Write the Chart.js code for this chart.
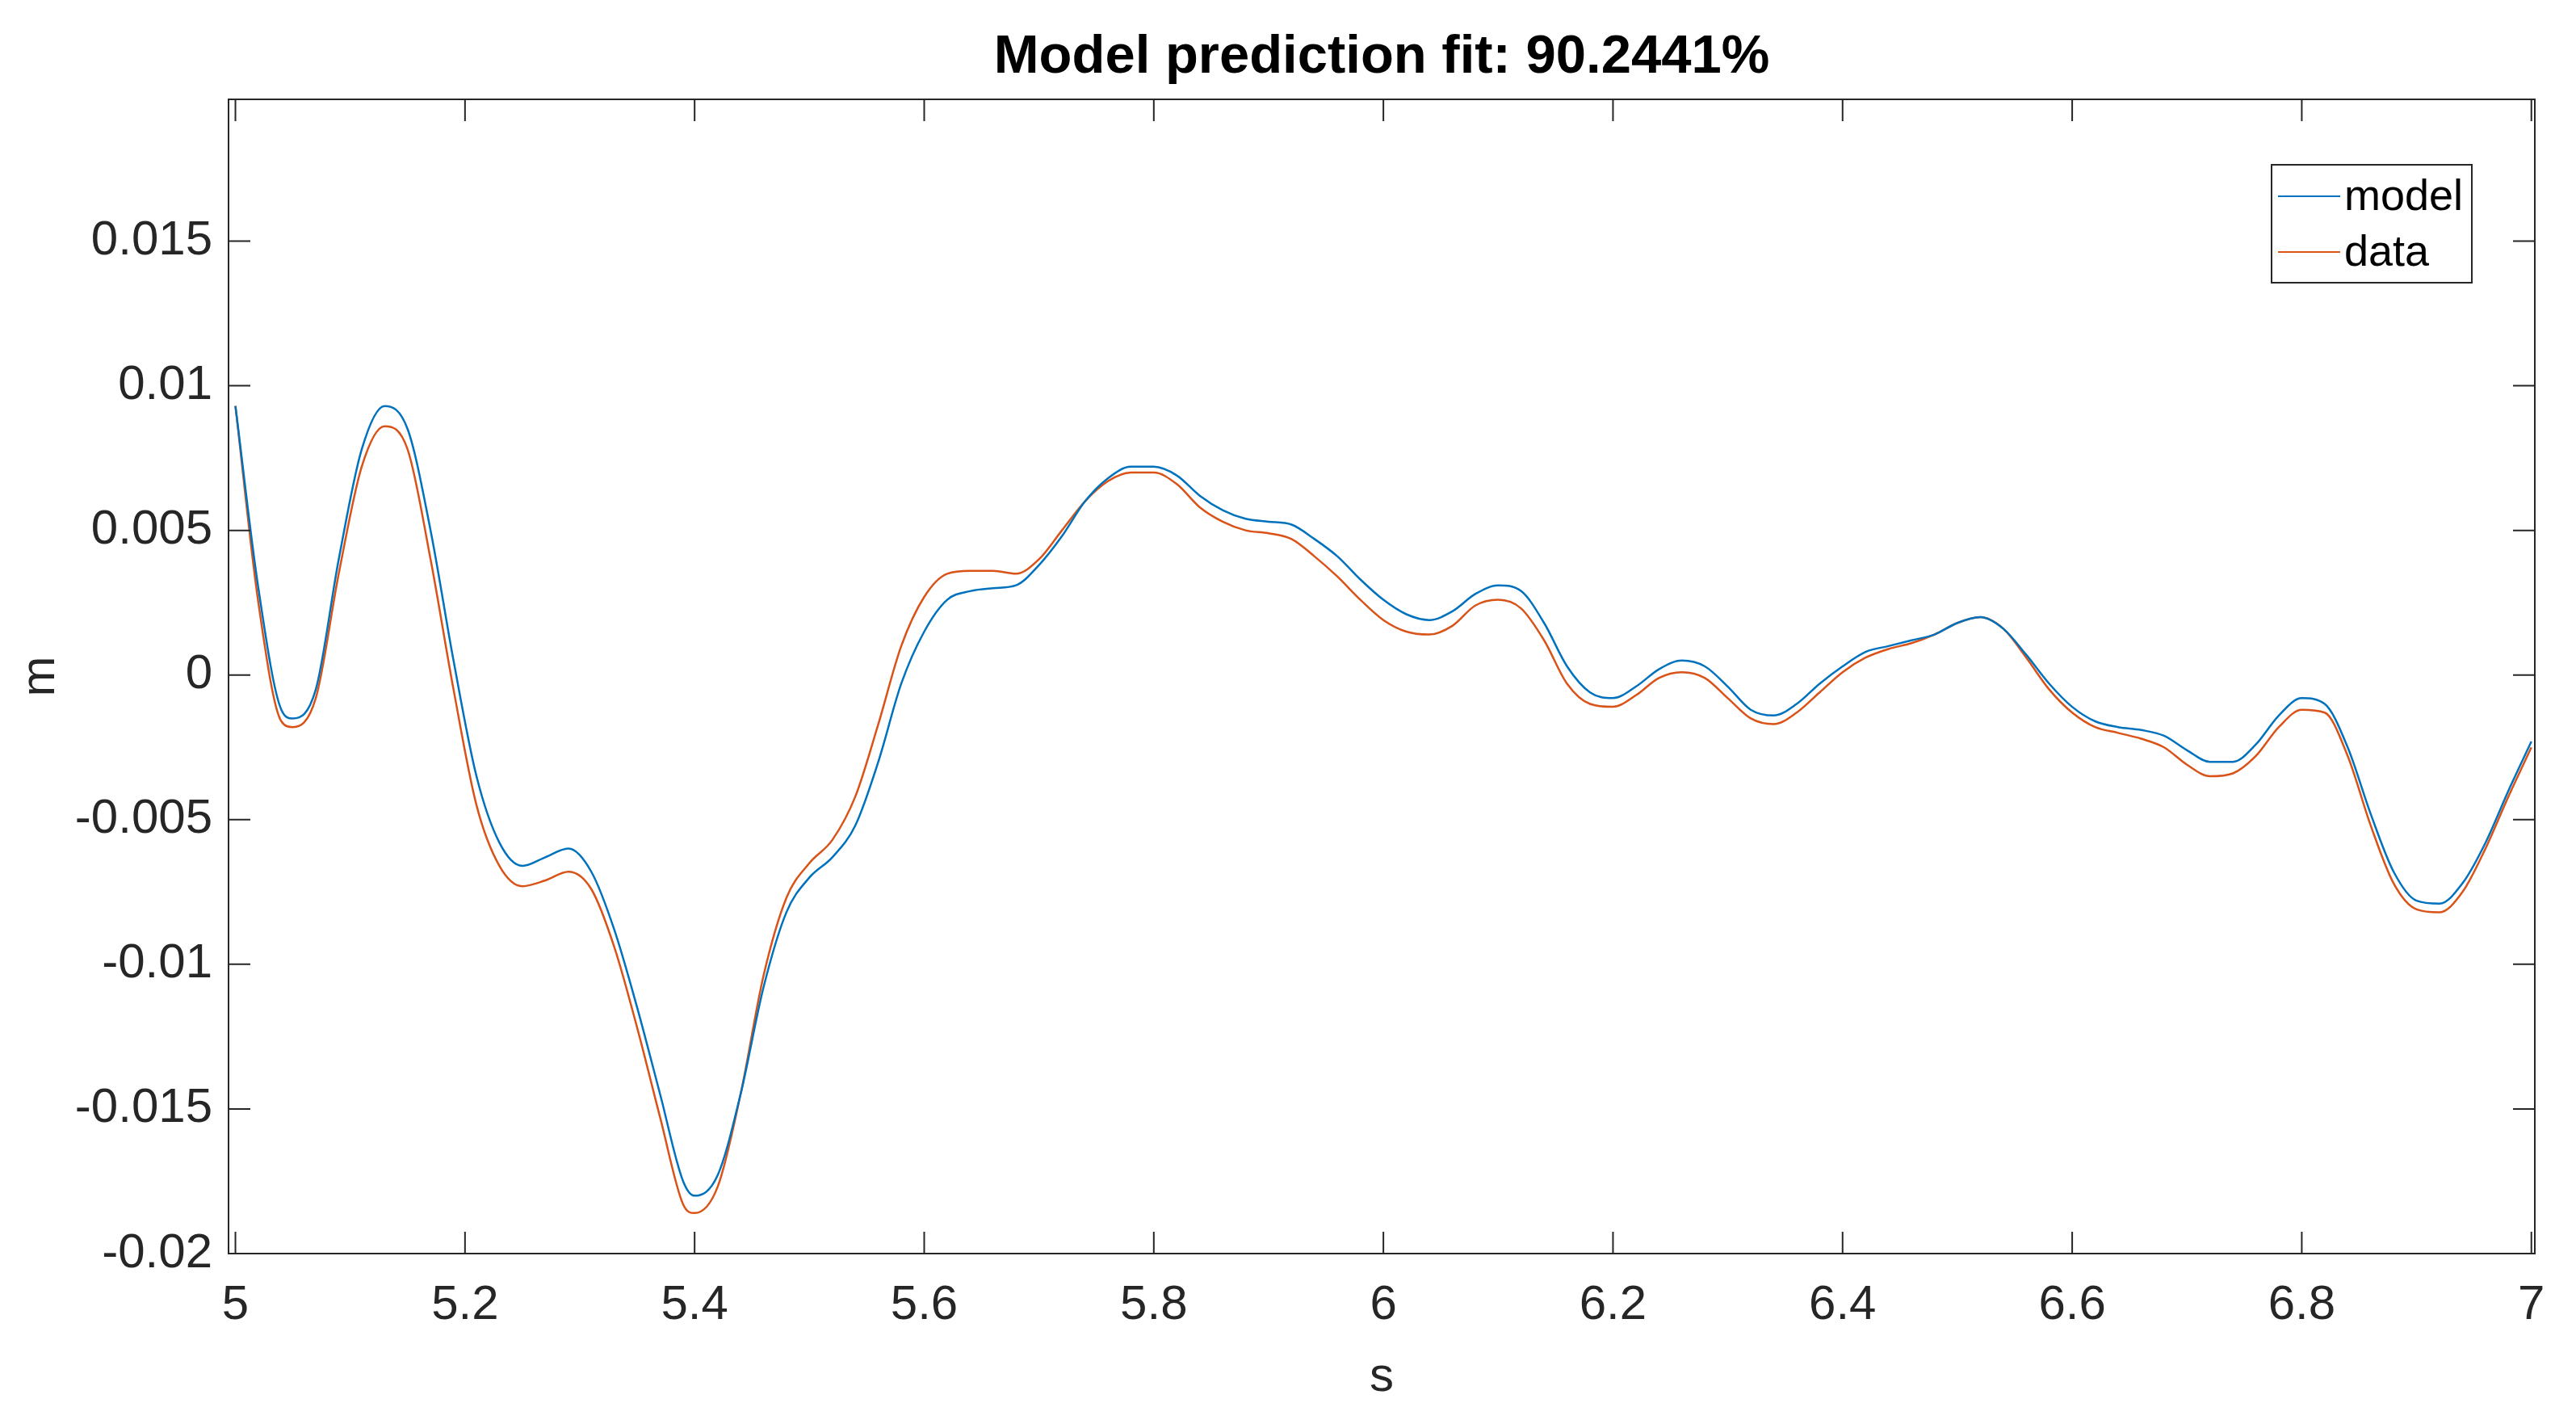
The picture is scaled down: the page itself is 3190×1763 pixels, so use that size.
<!DOCTYPE html>
<html>
<head>
<meta charset="utf-8">
<script src="https://cdn.jsdelivr.net/npm/chart.js@4"></script>
<style>
  html, body { margin: 0; padding: 0; background: #fff; }
  #wrap { width: 3190px; height: 1763px; }
</style>
</head>
<body>
<div id="wrap"><canvas id="fitChart" width="3190" height="1763"></canvas></div>
<script>
const titleText = 'Model prediction fit: 90.2441%';
const seriesNames = ['model', 'data'];
const xTicks = [5, 5.2, 5.4, 5.6, 5.8, 6, 6.2, 6.4, 6.6, 6.8, 7];
const yTicks = [-0.02, -0.015, -0.01, -0.005, 0, 0.005, 0.01, 0.015];

const times = [5.00, 5.02, 5.04, 5.05, 5.07, 5.09, 5.11, 5.13, 5.15, 5.17, 5.19, 5.21, 5.23, 5.25, 5.27, 5.29,
  5.31, 5.33, 5.35, 5.37, 5.39, 5.40, 5.42, 5.44, 5.46, 5.48, 5.50, 5.52, 5.54, 5.56, 5.58, 5.60,
  5.62, 5.64, 5.66, 5.68, 5.70, 5.72, 5.74, 5.76, 5.78, 5.80, 5.82, 5.84, 5.86, 5.88, 5.90, 5.92,
  5.94, 5.96, 5.98, 6.00, 6.02, 6.04, 6.06, 6.08, 6.10, 6.12, 6.14, 6.16, 6.18, 6.20, 6.22, 6.24,
  6.26, 6.28, 6.30, 6.32, 6.34, 6.36, 6.38, 6.40, 6.42, 6.44, 6.46, 6.48, 6.50, 6.52, 6.54, 6.56,
  6.58, 6.60, 6.62, 6.64, 6.66, 6.68, 6.70, 6.72, 6.74, 6.76, 6.78, 6.80, 6.82, 6.84, 6.86, 6.88,
  6.90, 6.92, 6.94, 6.96, 6.98, 7.00];

const modelValues = [0.0093, 0.0030, -0.0012, -0.0015, -0.0005, 0.0040, 0.0078, 0.0093, 0.0085, 0.0050, 0.0005, -0.0035, -0.0058, -0.0066, -0.0063, -0.0060,
  -0.0068, -0.0088, -0.0115, -0.0145, -0.0175, -0.0180, -0.0173, -0.0145, -0.0108, -0.0082, -0.0070, -0.0063, -0.0052, -0.0030, -0.0003, 0.0015,
  0.0026, 0.0029, 0.0030, 0.0031, 0.0038, 0.0048, 0.0060, 0.0068, 0.0072, 0.0072, 0.0069, 0.0062, 0.0057, 0.0054, 0.0053, 0.0052,
  0.0047, 0.0041, 0.0033, 0.0026, 0.0021, 0.0019, 0.0022, 0.0028, 0.0031, 0.0029, 0.0018, 0.0003, -0.0006, -0.0008, -0.0004, 0.0002,
  0.0005, 0.0003, -0.0004, -0.0012, -0.0014, -0.0010, -0.0003, 0.0003, 0.0008, 0.0010, 0.0012, 0.0014, 0.0018, 0.0020, 0.0016, 0.0007,
  -0.0003, -0.0011, -0.0016, -0.0018, -0.0019, -0.0021, -0.0026, -0.0030, -0.0030, -0.0024, -0.0014, -0.0008, -0.0010, -0.0025, -0.0048, -0.0068,
  -0.0078, -0.0079, -0.0072, -0.0058, -0.0040, -0.0023];

const dataValues = [0.0093, 0.0025, -0.0016, -0.0018, -0.0008, 0.0035, 0.0072, 0.0086, 0.0078, 0.0040, -0.0005, -0.0045, -0.0066, -0.0073, -0.0071, -0.0068,
  -0.0074, -0.0094, -0.0122, -0.0153, -0.0183, -0.0186, -0.0177, -0.0145, -0.0104, -0.0077, -0.0065, -0.0057, -0.0042, -0.0017, 0.0010, 0.0027,
  0.0035, 0.0036, 0.0036, 0.0035, 0.0040, 0.0050, 0.0060, 0.0067, 0.0070, 0.0070, 0.0066, 0.0058, 0.0053, 0.0050, 0.0049, 0.0047,
  0.0041, 0.0034, 0.0026, 0.0019, 0.0015, 0.0014, 0.0017, 0.0024, 0.0026, 0.0023, 0.0012, -0.0003, -0.0010, -0.0011, -0.0007, -0.0001,
  0.0001, -0.0001, -0.0008, -0.0015, -0.0017, -0.0013, -0.0006, 0.0001, 0.0006, 0.0009, 0.0011, 0.0014, 0.0018, 0.0020, 0.0016, 0.0006,
  -0.0005, -0.0013, -0.0018, -0.0020, -0.0022, -0.0025, -0.0031, -0.0035, -0.0034, -0.0028, -0.0018, -0.0012, -0.0013, -0.0028, -0.0052, -0.0072,
  -0.0081, -0.0082, -0.0075, -0.0060, -0.0042, -0.0025];

const blue = '#0072BD';
const orange = '#D95319';
const fontFam = '"Liberation Sans", Arial, sans-serif';

// box, inward ticks, title, axis labels and legend, drawn like MATLAB does
const matlabFrame = {
  id: 'matlabFrame',
  afterDraw(chart) {
    const ctx = chart.ctx;
    const a = chart.chartArea;
    const xs = chart.scales.x, ys = chart.scales.y;
    const tl = 27;
    ctx.save();
    ctx.strokeStyle = '#262626';
    ctx.lineWidth = 2;
    ctx.strokeRect(a.left, a.top, a.right - a.left, a.bottom - a.top);
    ctx.beginPath();
    xTicks.forEach(v => {
      const p = xs.getPixelForValue(v);
      ctx.moveTo(p, a.bottom); ctx.lineTo(p, a.bottom - tl);
      ctx.moveTo(p, a.top); ctx.lineTo(p, a.top + tl);
    });
    yTicks.forEach(v => {
      const p = ys.getPixelForValue(v);
      ctx.moveTo(a.left, p); ctx.lineTo(a.left + tl, p);
      ctx.moveTo(a.right, p); ctx.lineTo(a.right - tl, p);
    });
    ctx.stroke();

    ctx.fillStyle = '#000';
    ctx.font = 'bold 67px ' + fontFam;
    ctx.textAlign = 'center';
    ctx.textBaseline = 'middle';
    ctx.fillText(titleText, (a.left + a.right) / 2, 72);

    ctx.fillStyle = '#262626';
    ctx.font = '60px ' + fontFam;
    ctx.fillText('s', (a.left + a.right) / 2, 1705);
    ctx.save();
    ctx.translate(50, (a.top + a.bottom) / 2);
    ctx.rotate(-Math.PI / 2);
    ctx.fillText('m', 0, 0);
    ctx.restore();

    // legend
    const lx = 2813, ly = 204, lw = 248, lh = 146;
    ctx.fillStyle = '#fff';
    ctx.fillRect(lx, ly, lw, lh);
    ctx.strokeStyle = '#262626';
    ctx.lineWidth = 2;
    ctx.strokeRect(lx, ly, lw, lh);
    const rows = [[blue, 243], [orange, 312]];
    ctx.font = '54px ' + fontFam;
    ctx.textAlign = 'left';
    rows.forEach((r, i) => {
      ctx.strokeStyle = r[0];
      ctx.beginPath();
      ctx.moveTo(lx + 8, r[1]); ctx.lineTo(lx + 85, r[1]);
      ctx.stroke();
      ctx.fillStyle = '#000';
      ctx.fillText(seriesNames[i], lx + 90, r[1] + 2);
    });
    ctx.restore();
  }
};

const toPoints = vals => vals.map((v, i) => ({ x: times[i], y: v }));

new Chart(document.getElementById('fitChart'), {
  type: 'line',
  data: {
    datasets: [
      { label: seriesNames[0], data: toPoints(modelValues), borderColor: blue, borderWidth: 2.5, pointRadius: 0, tension: 0.4, cubicInterpolationMode: 'monotone' },
      { label: seriesNames[1], data: toPoints(dataValues), borderColor: orange, borderWidth: 2.5, pointRadius: 0, tension: 0.4, cubicInterpolationMode: 'monotone' }
    ]
  },
  options: {
    responsive: false,
    animation: false,
    devicePixelRatio: 1,
    layout: { padding: { top: 123, right: 51, left: 0, bottom: 0 } },
    plugins: { legend: { display: false }, title: { display: false }, tooltip: { enabled: false } },
    scales: {
      x: {
        type: 'linear', min: 4.994, max: 7.003,
        afterBuildTicks: s => { s.ticks = xTicks.map(v => ({ value: v })); },
        afterFit: s => { s.height = 211; },
        grid: { display: false, drawTicks: false },
        border: { display: false },
        ticks: { color: '#262626', font: { size: 60, family: fontFam }, padding: 28, maxRotation: 0, autoSkip: false,
          callback: v => String(+v.toFixed(1)) }
      },
      y: {
        type: 'linear', min: -0.02, max: 0.0199,
        afterBuildTicks: s => { s.ticks = yTicks.map(v => ({ value: v })); },
        afterFit: s => { s.width = 283; },
        grid: { display: false, drawTicks: false },
        border: { display: false },
        ticks: { color: '#262626', font: { size: 60, family: fontFam }, padding: 20, autoSkip: false,
          callback: v => String(+v.toFixed(3)) }
      }
    }
  },
  plugins: [matlabFrame]
});
</script>
</body>
</html>
